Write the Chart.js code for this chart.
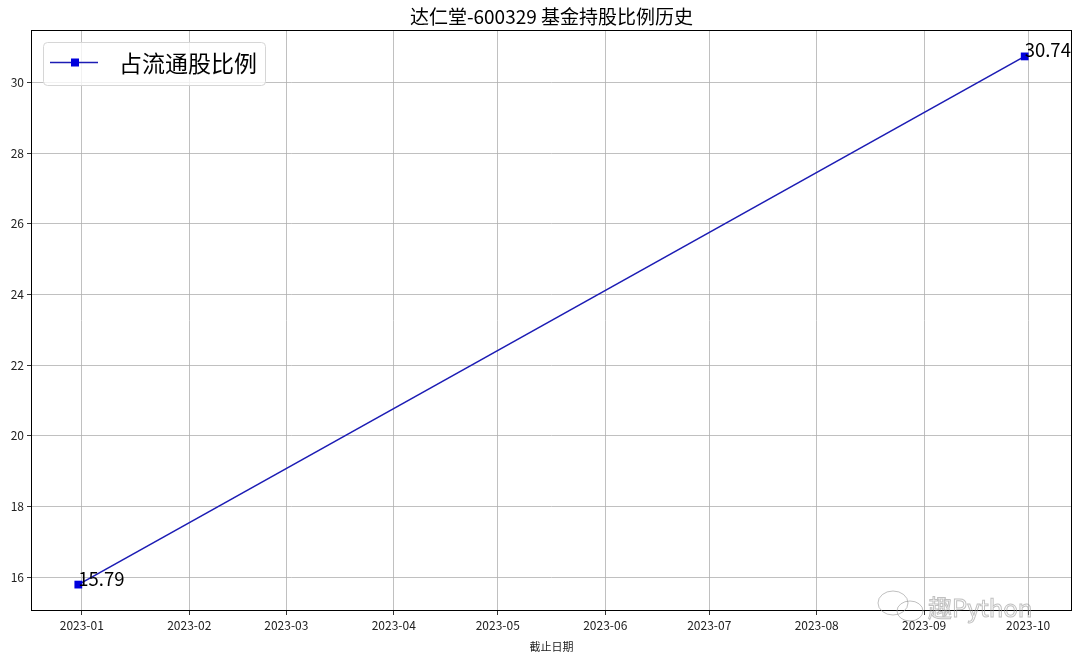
<!DOCTYPE html>
<html lang="zh">
<head>
  <meta charset="UTF-8">
  <title>达仁堂-600329 基金持股比例历史</title>
  <script src="https://cdn.jsdelivr.net/npm/chart.js"></script>
  <style>
    html, body { margin: 0; padding: 0; background: #fff; }
    #wrap { width: 1080px; height: 659px; }
  </style>
</head>
<body>
<div id="wrap"><canvas id="chart" width="1080" height="659"></canvas></div>
<script>
// data
const dates = ['2022-12-31', '2023-09-30'];
const ratios = [15.79, 30.74];
const monthTicks = ['2023-01', '2023-02', '2023-03', '2023-04', '2023-05', '2023-06', '2023-07', '2023-08', '2023-09', '2023-10'];
const yTicks = [16, 18, 20, 22, 24, 26, 28, 30];
const seriesName = '占流通股比例';
const titleText = '达仁堂-600329 基金持股比例历史';
const xTitle = '截止日期';

const FONT = '"Noto Sans CJK SC", "Noto Sans", sans-serif';
const BASE = Date.UTC(2023, 0, 1);
function dayNum(s) {
  const p = s.split('-').map(Number);
  return (Date.UTC(p[0], p[1] - 1, p[2] || 1) - BASE) / 86400000;
}

const xs = dates.map(dayNum);
const points = xs.map((x, i) => ({ x: x, y: ratios[i] }));
const xSpan = Math.max(...xs) - Math.min(...xs);
const ySpan = Math.max(...ratios) - Math.min(...ratios);

const lineColor = '#1c1cb4';
const markColor = '#0000dd';

const extras = {
  id: 'extras',
  afterDraw(chart) {
    const ctx = chart.ctx;
    const a = chart.chartArea;
    const xs_ = chart.scales.x, ys_ = chart.scales.y;
    ctx.save();
    // frame
    ctx.strokeStyle = '#000';
    ctx.lineWidth = 1;
    ctx.strokeRect(a.left + 0.5, a.top + 0.5, a.right - a.left - 1, a.bottom - a.top - 1);
    // title
    ctx.fillStyle = '#000';
    ctx.font = '19px ' + FONT;
    ctx.textAlign = 'center';
    ctx.textBaseline = 'alphabetic';
    ctx.fillText(titleText, (a.left + a.right) / 2, 24);
    // value labels
    ctx.font = '18.5px ' + FONT;
    ctx.textAlign = 'left';
    points.forEach(p => {
      ctx.fillText(p.y.toFixed(2), xs_.getPixelForValue(p.x), ys_.getPixelForValue(p.y) + 1);
    });
    // legend
    const lx = 43, ly = 42, lw = 222, lh = 43;
    ctx.beginPath();
    ctx.roundRect(lx + 0.5, ly + 0.5, lw, lh, 4);
    ctx.fillStyle = 'rgba(255,255,255,0.8)';
    ctx.fill();
    ctx.strokeStyle = '#d6d6d6';
    ctx.stroke();
    ctx.beginPath();
    ctx.moveTo(50, 62.5);
    ctx.lineTo(98, 62.5);
    ctx.strokeStyle = lineColor;
    ctx.lineWidth = 1.6;
    ctx.stroke();
    ctx.fillStyle = markColor;
    ctx.fillRect(71, 58.5, 8, 8);
    ctx.fillStyle = '#000';
    ctx.font = '23px ' + FONT;
    ctx.textBaseline = 'middle';
    ctx.fillText(seriesName, 119, 63);
    // watermark
    ctx.font = '24px ' + FONT;
    ctx.textBaseline = 'alphabetic';
    ctx.strokeStyle = 'rgba(150,150,150,0.6)';
    ctx.lineWidth = 1;
    ctx.strokeText('趣Python', 928, 617);
    ctx.beginPath();
    ctx.ellipse(893, 603, 15, 12, 0, 0, Math.PI * 2);
    ctx.stroke();
    ctx.beginPath();
    ctx.ellipse(910, 611, 13, 10, 0, 0, Math.PI * 2);
    ctx.stroke();
    ctx.restore();
  }
};

new Chart(document.getElementById('chart'), {
  type: 'line',
  data: {
    datasets: [{
      label: seriesName,
      data: points,
      borderColor: lineColor,
      borderWidth: 1.6,
      pointStyle: 'rect',
      pointRadius: 5.5,
      pointBackgroundColor: markColor,
      pointBorderColor: markColor,
      pointBorderWidth: 0,
      tension: 0
    }]
  },
  options: {
    responsive: false,
    animation: false,
    layout: { padding: { left: 0, right: 8, top: 30, bottom: 0 } },
    plugins: {
      legend: { display: false },
      title: { display: false },
      tooltip: { enabled: false }
    },
    scales: {
      x: {
        type: 'linear',
        min: Math.min(...xs) - xSpan * 0.05,
        max: Math.max(...xs) + xSpan * 0.05,
        afterBuildTicks(scale) {
          scale.ticks = monthTicks.map(m => ({ value: dayNum(m) }));
        },
        afterFit(scale) { scale.height = 48; },
        ticks: {
          autoSkip: false,
          maxRotation: 0,
          padding: 3,
          color: '#222',
          font: { family: FONT, size: 12 },
          callback(v, i) { return monthTicks[i]; }
        },
        grid: { color: '#b0b0b0', lineWidth: 0.8, tickColor: '#000', tickLength: 4 },
        border: { display: false },
        title: {
          display: true,
          text: xTitle,
          color: '#222',
          font: { family: FONT, size: 11 },
          padding: { top: 0, bottom: 6 }
        }
      },
      y: {
        min: Math.min(...ratios) - ySpan * 0.05,
        max: Math.max(...ratios) + ySpan * 0.05,
        afterBuildTicks(scale) {
          scale.ticks = yTicks.map(v => ({ value: v }));
        },
        afterFit(scale) { scale.width = 31; },
        ticks: {
          padding: 3,
          color: '#222',
          font: { family: FONT, size: 12 },
          callback(v) { return String(v); }
        },
        grid: { color: '#b0b0b0', lineWidth: 0.8, tickColor: '#000', tickLength: 4 },
        border: { display: false }
      }
    }
  },
  plugins: [extras]
});
</script>
</body>
</html>
